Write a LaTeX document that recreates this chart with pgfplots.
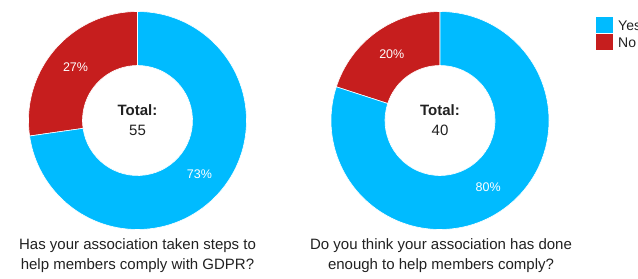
\documentclass[border=0pt]{standalone}
\usepackage{pgfplots}
\pgfplotsset{compat=1.18}
\usepackage{fontspec}
\setmainfont{Liberation Sans}
\definecolor{cyanC}{RGB}{0,187,255}
\definecolor{redC}{RGB}{198,30,30}
\definecolor{txt}{RGB}{33,33,33}

% data: counts of answers
\def\yesL{40}\def\noL{15}
\def\yesR{32}\def\noR{8}

\def\Rout{109}\def\Rin{55}\def\Rmid{82}
\pgfmathsetmacro\aL{90+360*\noL/(\noL+\yesL)}
\pgfmathsetmacro\bL{90-360*\yesL/(\noL+\yesL)}
\pgfmathsetmacro\aR{90+360*\noR/(\noR+\yesR)}
\pgfmathsetmacro\bR{90-360*\yesR/(\noR+\yesR)}
\pgfmathtruncatemacro\pNoL{round(100*\noL/(\noL+\yesL))}
\pgfmathtruncatemacro\pYesL{round(100*\yesL/(\noL+\yesL))}
\pgfmathtruncatemacro\pNoR{round(100*\noR/(\noR+\yesR))}
\pgfmathtruncatemacro\pYesR{round(100*\yesR/(\noR+\yesR))}
\pgfmathtruncatemacro\totL{\noL+\yesL}
\pgfmathtruncatemacro\totR{\noR+\yesR}

\newcommand\slice[5]{%
 \fill[#5, draw=white, line width=0.6bp]
  (axis cs:{#1+\Rout*cos(#3)},{#2+\Rout*sin(#3)})
  arc[start angle=#3, end angle=#4, radius=\Rout bp]
  -- (axis cs:{#1+\Rin*cos(#4)},{#2+\Rin*sin(#4)})
  arc[start angle=#4, end angle=#3, radius=\Rin bp] -- cycle;}
\newcommand\plabel[4]{%
 \node[text=white, font=\fontsize{12.5bp}{14bp}\selectfont] at
  (axis cs:{#1+\Rmid*cos((#2+#3)/2)},{\Rmid*sin((#2+#3)/2)+157.5}) {#4\%};}

\begin{document}
\begin{tikzpicture}
\begin{axis}[x=1bp,y=1bp,xmin=0,xmax=638,ymin=0,ymax=278,hide axis,clip=false]
% left donut
\slice{137.5}{157.5}{90}{\aL}{redC}
\slice{137.5}{157.5}{90}{\bL}{cyanC}
\plabel{137.5}{90}{\aL}{\pNoL}
\plabel{137.5}{90}{\bL}{\pYesL}
\node[text=txt, font=\bfseries\fontsize{15bp}{18bp}\selectfont] at (axis cs:137.5,167.5) {Total:};
\node[text=txt, font=\fontsize{15bp}{18bp}\selectfont] at (axis cs:137.5,147.5) {\totL};
% right donut
\slice{440}{157.5}{90}{\aR}{redC}
\slice{440}{157.5}{90}{\bR}{cyanC}
\plabel{440}{90}{\aR}{\pNoR}
\plabel{440}{90}{\bR}{\pYesR}
\node[text=txt, font=\bfseries\fontsize{15bp}{18bp}\selectfont] at (axis cs:440,167.5) {Total:};
\node[text=txt, font=\fontsize{15bp}{18bp}\selectfont] at (axis cs:440,147.5) {\totR};
% titles
\node[text=txt, align=center, font=\fontsize{15bp}{20bp}\selectfont] at (axis cs:137.5,22) {Has your association taken steps to\\help members comply with GDPR?};
\node[text=txt, align=center, font=\fontsize{15bp}{20bp}\selectfont] at (axis cs:441,22) {Do you think your association has done\\enough to help members comply?};
% legend
\fill[cyanC] (axis cs:596,245) rectangle (axis cs:613,261);
\fill[redC] (axis cs:596,228) rectangle (axis cs:613,244);
\node[text=txt, anchor=west, inner sep=0pt, font=\fontsize{14bp}{16bp}\selectfont] at (axis cs:618,252.5) {Yes};
\node[text=txt, anchor=west, inner sep=0pt, font=\fontsize{14bp}{16bp}\selectfont] at (axis cs:618,235.5) {No};
\coordinate (bl) at (axis cs:0,0);
\coordinate (tr) at (axis cs:638,278);
\end{axis}
\pgfresetboundingbox
\useasboundingbox (bl) rectangle (tr);
\end{tikzpicture}
\end{document}
